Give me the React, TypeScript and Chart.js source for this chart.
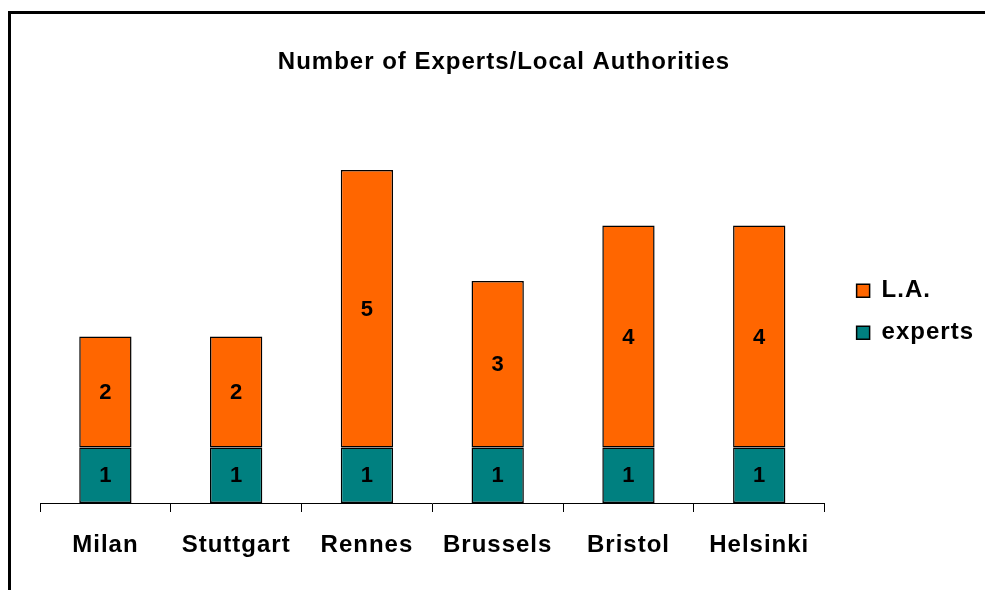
import { useEffect, useRef } from "react";
import { Chart, registerables } from "chart.js";

Chart.register(...registerables);

const categories = ["Milan", "Stuttgart", "Rennes", "Brussels", "Bristol", "Helsinki"];
const expertsValues = [1, 1, 1, 1, 1, 1];
const laValues = [2, 2, 5, 3, 4, 4];
const seriesNames = ["experts", "L.A."];
const titleText = "Number of Experts/Local Authorities";
const yMin = 0;
const yMax = 7;

const FONT = '"Liberation Sans", Arial, sans-serif';
const SPACING = "1px";

const spacingPlugin = {
  id: "letterSpacing",
  beforeUpdate(chart: any) {
    chart.ctx.letterSpacing = SPACING;
  },
  beforeLayout(chart: any) {
    chart.ctx.letterSpacing = SPACING;
  },
  beforeDraw(chart: any) {
    chart.ctx.letterSpacing = SPACING;
  },
};

const valueLabels = {
  id: "valueLabels",
  afterDatasetsDraw(chart: any) {
    const ctx = chart.ctx;
    ctx.save();
    ctx.letterSpacing = "0px";
    ctx.font = `bold 22px ${FONT}`;
    ctx.fillStyle = "#000";
    ctx.textAlign = "center";
    ctx.textBaseline = "middle";
    chart.data.datasets.forEach((ds: any, i: number) => {
      const meta = chart.getDatasetMeta(i);
      meta.data.forEach((bar: any, j: number) => {
        const { x, y, base } = bar.getProps(["x", "y", "base"], true);
        ctx.fillText(String(ds.data[j]), x, (y + base) / 2 + 1);
      });
    });
    ctx.restore();
  },
};

export default function App() {
  const canvasRef = useRef<HTMLCanvasElement | null>(null);

  useEffect(() => {
    const canvas = canvasRef.current;
    if (!canvas) return;
    const chart = new Chart(canvas, {
      type: "bar",
      data: {
        labels: categories,
        datasets: [
          {
            label: seriesNames[0],
            data: expertsValues,
            backgroundColor: "#008080",
            borderColor: "#000000",
            borderWidth: 1.5,
            borderSkipped: false,
            barPercentage: 0.4,
            categoryPercentage: 1,
          },
          {
            label: seriesNames[1],
            data: laValues,
            backgroundColor: "#FF6600",
            borderColor: "#000000",
            borderWidth: 1.5,
            borderSkipped: false,
            barPercentage: 0.4,
            categoryPercentage: 1,
          },
        ],
      },
      options: {
        responsive: false,
        animation: false,
        layout: { padding: { left: 24, right: 1, top: 48, bottom: 0 } },
        plugins: {
          title: {
            display: true,
            text: titleText,
            color: "#000",
            font: { family: FONT, size: 24, weight: "bold" },
            padding: { top: 0, bottom: 37.7 },
          },
          legend: {
            display: true,
            position: "right",
            fullSize: false,
            reverse: true,
            title: {
              display: true,
              text: " ",
              font: { family: FONT, size: 5 },
              padding: 0,
            },
            labels: {
              color: "#000",
              font: { family: FONT, size: 24, weight: "bold" },
              boxWidth: 13,
              boxHeight: 13,
              padding: 18,
            },
          },
          tooltip: { enabled: false },
        },
        scales: {
          x: {
            stacked: true,
            offset: true,
            grid: {
              display: true,
              offset: true,
              drawOnChartArea: false,
              drawTicks: true,
              tickLength: 9,
              color: "#000",
              lineWidth: 1,
            },
            border: { display: true, color: "#000", width: 1 },
            ticks: {
              color: "#000",
              font: { family: FONT, size: 24, weight: "bold" },
              padding: 19,
              maxRotation: 0,
              autoSkip: false,
            },
            afterFit(scale: any) {
              scale.height = 87;
            },
          },
          y: {
            stacked: true,
            min: yMin,
            max: yMax,
            display: true,
            grid: { display: false },
            border: { display: false },
            ticks: { display: false },
            afterFit(scale: any) {
              scale.width = 16;
            },
          },
          yRight: {
            type: "linear",
            position: "right",
            display: true,
            grid: { display: false },
            border: { display: false },
            ticks: { display: false },
            afterFit(scale: any) {
              scale.width = 14;
            },
          },
        },
      },
      plugins: [spacingPlugin, valueLabels],
    } as any);
    return () => chart.destroy();
  }, []);

  return (
    <div
      style={{
        position: "fixed",
        left: 0,
        top: 0,
        width: 985,
        height: 590,
        overflow: "hidden",
        background: "#fff",
      }}
    >
      <div
        style={{
          position: "absolute",
          left: 8,
          top: 11,
          width: 1200,
          height: 1200,
          borderLeft: "3px solid #000",
          borderTop: "3px solid #000",
        }}
      />
      <canvas
        ref={canvasRef}
        width={985}
        height={590}
        style={{ position: "absolute", left: 0, top: 0, width: 985, height: 590 }}
      />
    </div>
  );
}
